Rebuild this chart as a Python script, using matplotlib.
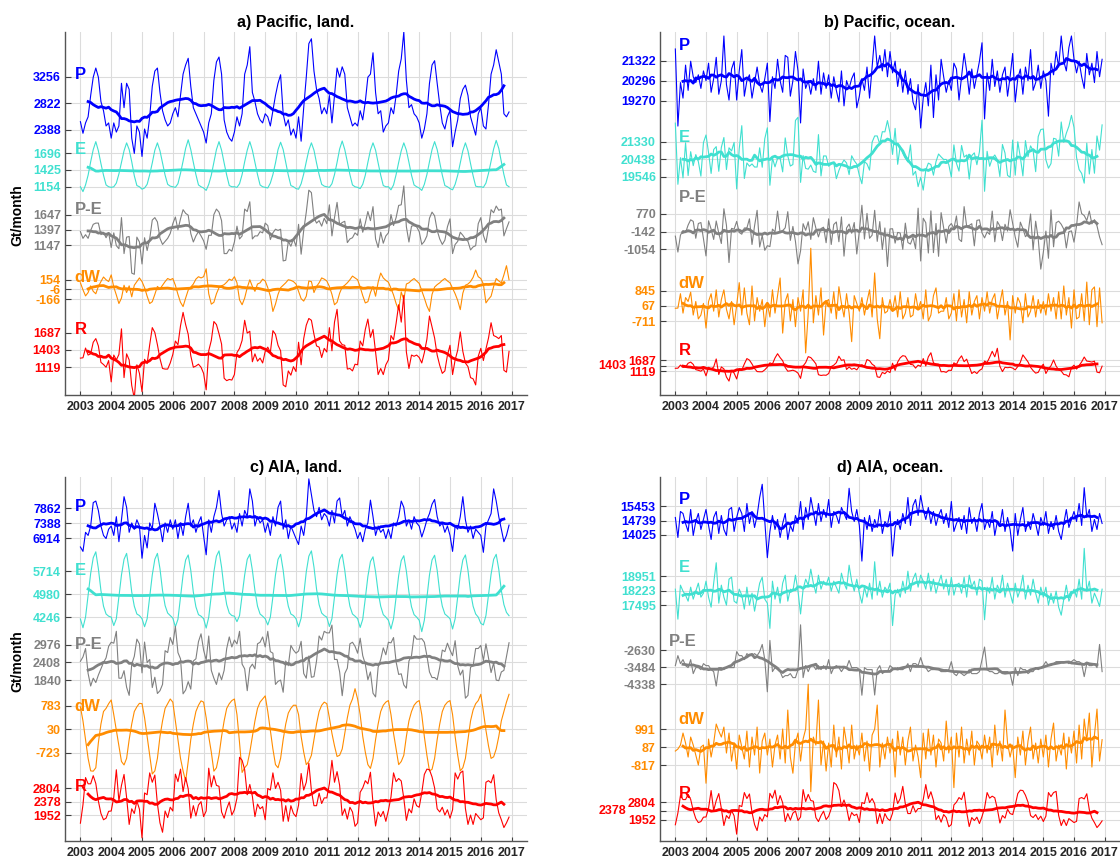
import numpy as np
import pandas as pd
import matplotlib
matplotlib.use("Agg")
from matplotlib import pyplot as plt
from matplotlib import transforms

plt.rcParams['font.family'] = ['Liberation Sans', 'DejaVu Sans']
plt.rcParams['font.weight'] = 'bold'

# monthly time axis, Jan 2003 .. Dec 2016
t = 2003 + np.arange(14 * 12) / 12
years = np.arange(2003, 2018)

SERIES = ['P', 'E', 'P-E', 'dW', 'R']
COLORS = ['#0000ff', '#40e0d0', '#808080', '#ff8c00', '#ff0000']

# ---------------- Pacific, land (Gt/month) ----------------
pac_land_P = [
    2520, 2330, 2500, 2600, 2950, 3250, 3400, 3250, 2850, 2700, 2450, 2500,
    2250, 2500, 2350, 2450, 3150, 2750, 3150, 3050, 2250, 2000, 2450, 2350,
    1950, 2400, 2250, 2600, 3100, 3350, 3400, 3000, 2700, 2550, 2450, 2500,
    2650, 2750, 2600, 2950, 3300, 3450, 3560, 3100, 2750, 2650, 2550, 2450,
    2350, 2170, 2500, 2650, 3200, 3500, 3580, 3300, 2550, 2350, 2250, 2200,
    2350, 2600, 2450, 2650, 3300, 3450, 3750, 3000, 2850, 2650, 2550, 2500,
    2650, 2600, 2450, 2700, 2950, 3150, 3290, 2650, 2450, 2550, 2300, 2400,
    2250, 2600, 2200, 2750, 3250, 3800, 3880, 3350, 3050, 2900, 2650, 2750,
    2650, 2950, 2500, 2950, 3400, 3250, 3420, 3300, 2750, 2600, 2450, 2500,
    2450, 2700, 2550, 2850, 3250, 3300, 3650, 3000, 2650, 2700, 2350, 2450,
    2500, 2750, 2650, 2950, 3350, 3550, 3990, 3200, 2750, 2800, 2650, 2600,
    2500, 2250, 2400, 2650, 3150, 3450, 3520, 3150, 2800, 2500, 2400, 2600,
    2700, 2110, 2350, 2550, 2900, 3050, 3120, 2950, 2600, 2450, 2300, 2650,
    2750, 2450, 2400, 2800, 3300, 3450, 3700, 3500, 3300, 2650, 2600, 2680,
]
pac_land_E = [
    1150, 1070, 1180, 1340, 1560, 1760, 1890, 1740, 1530, 1340, 1180, 1150,
    1140, 1150, 1210, 1360, 1550, 1740, 1870, 1760, 1560, 1330, 1170, 1150,
    1110, 1130, 1190, 1350, 1540, 1750, 1870, 1740, 1540, 1340, 1190, 1160,
    1150, 1140, 1200, 1370, 1570, 1780, 1920, 1760, 1550, 1350, 1180, 1150,
    1130, 1090, 1190, 1340, 1550, 1760, 1890, 1750, 1540, 1340, 1170, 1150,
    1150, 1140, 1200, 1350, 1560, 1750, 1890, 1750, 1550, 1350, 1180, 1150,
    1140, 1130, 1210, 1350, 1540, 1760, 1880, 1760, 1550, 1340, 1170, 1150,
    1120, 1110, 1200, 1360, 1560, 1750, 1870, 1750, 1540, 1350, 1190, 1160,
    1150, 1140, 1200, 1350, 1550, 1770, 1900, 1760, 1560, 1350, 1180, 1150,
    1140, 1120, 1190, 1340, 1550, 1750, 1870, 1750, 1540, 1340, 1170, 1150,
    1150, 1100, 1180, 1350, 1550, 1740, 1870, 1750, 1550, 1340, 1180, 1150,
    1130, 1090, 1190, 1350, 1560, 1760, 1890, 1760, 1550, 1340, 1170, 1150,
    1120, 1100, 1190, 1340, 1540, 1740, 1870, 1740, 1530, 1330, 1160, 1150,
    1150, 1140, 1210, 1370, 1570, 1770, 1910, 1780, 1560, 1350, 1180, 1150,
]
pac_land_dW = [
    100, -15, -115, -60, 50, -40, -80, 40, 120, 195, 150, 120,
    230, 30, -100, -240, -150, 60, -60, 50, -130, 60, 120, 180,
    120, 20, -120, -240, -210, -90, 40, 0, 60, 120, 170, 150,
    170, 60, -90, -220, -290, -150, -20, 30, 80, 160, 200, 180,
    200, 330, -80, -250, -220, -80, 20, 50, 70, 110, 160, 140,
    200, 100, -180, -260, -150, 20, 150, 40, -40, 80, 100, 160,
    130, 20, -120, -370, -250, -90, 20, 60, 100, 150, 140, 120,
    80, -40, -160, -200, -120, 130, 120, -60, 40, 100, 180, 160,
    130, 40, -90, -260, -220, -70, 30, 60, 100, 150, 210, 180,
    150, 30, -110, -230, -210, -60, 40, -120, 110, 260, 180, 140,
    110, 10, -100, -240, -345, -50, -180, 80, 100, 140, 170, 130,
    90, -30, -150, -280, -370, -90, 30, 70, 100, 140, 170, 130,
    100, 10, -80, -190, -340, -70, 60, 80, 120, 190, 310, 200,
    170, 80, -230, -170, -120, 40, 170, 130, 100, 230, 380, 150,
]

# ---------------- Pacific, ocean ----------------
pac_ocean_P = [
    21930, 17960, 20200, 19400, 21100, 19800, 21300, 20500, 20200, 20600, 19900, 20800,
    20300, 21200, 19700, 20400, 21500, 19600, 20300, 22600, 20100, 19300, 20900, 21300,
    19300, 20800, 21900, 19500, 20300, 20600, 19400, 20200, 21000, 20100, 19700, 20400,
    21200, 18190, 20500, 19900, 21400, 20300, 19700, 21600, 21500, 19500, 20300, 21800,
    20800, 18120, 20900, 19900, 20300, 19600, 20400, 19800, 21300, 19600, 20700, 19900,
    20600, 19400, 20500, 19800, 19200, 20800, 19000, 20300, 19900, 20400, 20700, 18900,
    19500, 20400, 19800, 21000, 19400, 21000, 22600, 21000, 21600, 20800, 21900, 20500,
    21800, 20700, 21300, 20000, 20900, 19700, 20800, 19600, 20400, 19200, 18800, 20100,
    17860, 19400, 20200, 19000, 21100, 18400, 20600, 19300, 21400, 20500, 19700, 20300,
    19800, 21200, 20900, 19300, 20500, 21700, 20800, 19600, 20900, 19900, 20600, 21300,
    22250, 18330, 20700, 19800, 21400, 20000, 20800, 19700, 20600, 21000, 19500, 20500,
    21700, 19200, 20400, 20900, 19600, 21000, 20300, 21900, 19800, 20200, 21100, 19900,
    20800, 20300, 18470, 21200, 20600, 21800, 21000, 22600, 21300, 20800, 22000, 22600,
    21400, 20700, 21300, 20500, 19900, 21700, 20600, 21200, 20200, 21800, 20500, 21400,
]
pac_ocean_E = [
    22300, 19150, 20520, 19480, 21290, 19600, 20830, 20110, 20680, 20320, 19570, 21300,
    21690, 20780, 19710, 20940, 21090, 19820, 21050, 21560, 19910, 21030, 20870, 21310,
    18910, 20980, 22170, 19450, 20250, 20080, 20200, 20040, 20040, 21030, 20030, 21500,
    22060, 19100, 20510, 20050, 20480, 20490, 19790, 21540, 20610, 20090, 20170, 22440,
    22600, 19250, 20630, 19970, 19930, 20140, 19820, 19760, 21710, 19580, 20610, 20610,
    20080, 20200, 20270, 19440, 19860, 20180, 20400, 20250, 19650, 20620, 20370, 20190,
    19610, 19180, 20320, 20200, 19880, 21320, 21640, 21640, 21220, 21860, 21850, 22430,
    21800, 20690, 22030, 20180, 21110, 20750, 20500, 20300, 21180, 19620, 19820, 19030,
    19510, 18850, 19880, 20240, 20170, 19620, 20320, 20710, 20560, 20430, 20430, 20170,
    19520, 21180, 20230, 19830, 21150, 20550, 20660, 19420, 20630, 20770, 20160, 20830,
    22450, 18790, 20850, 20080, 20480, 20660, 20420, 19550, 21200, 20760, 19610, 19510,
    21430, 19620, 21340, 20550, 19580, 21400, 20570, 21130, 20880, 19800, 21610, 21970,
    22000, 20410, 19980, 20220, 21520, 21480, 20600, 22360, 21310, 21780, 22140, 22700,
    22080, 20530, 19910, 19710, 19210, 21270, 19680, 20940, 19720, 21640, 20910, 22210,
]
pac_ocean_dW = [
    -50, -40, 700, -300, 500, 300, 780, -400, 300, -600, -400, 200,
    -1070, 300, 700, -200, 900, -500, 400, 900, -100, -600, 300, -900,
    100, 1270, -400, 1000, -300, -900, 1100, -700, 500, -200, 400, -1000,
    200, -500, 900, -300, 600, 1510, -1330, 300, 700, -700, 400, -1000,
    500, -200, 900, -2350, -300, 3040, -800, 600, -400, 1000, -1430, 300,
    400, -300, 800, -600, 1060, 200, -500, 700, -300, -1770, 600, 200,
    -200, 500, -400, 300, 900, -500, 1770, -600, -1620, 500, -300, -200,
    400, -200, 600, -500, 800, -600, -300, 500, -500, -400, 700, -100,
    300, -600, 900, -700, -400, 600, 1000, -300, -200, -200, 500, -600,
    -300, 700, -700, 900, -500, 400, -800, 800, -400, 300, 600, -600,
    500, -200, 800, -300, 400, 700, -600, 200, 900, -400, 300, -1680,
    600, -300, 500, 200, -800, 700, -500, -200, 600, -500, 400, -300,
    300, -400, 700, -200, 500, -600, 800, -600, 1100, -400, 500, -1070,
    900, -600, -500, 700, -700, 1300, -900, 900, 1050, -1000, 1000, -800,
]

# ---------------- AIA, land ----------------
aia_land_P = [
    6630, 6490, 7100, 7000, 7300, 8050, 8100, 7800, 7300, 7000, 6900, 7200,
    7300, 7000, 7600, 6800, 7500, 8240, 7900, 7100, 7400, 7200, 7500, 7300,
    6270, 7000, 6600, 7400, 7200, 8030, 7700, 7300, 6800, 7400, 7100, 7500,
    7200, 7500, 6900, 7400, 7000, 7600, 8030, 7300, 7500, 7100, 7400, 7600,
    7000, 6380, 7500, 7100, 7600, 7900, 8440, 7700, 7300, 7500, 7600, 7200,
    7400, 7100, 7700, 7300, 7800, 7600, 8490, 8100, 7300, 7600, 7400, 7500,
    7100, 7400, 7000, 7600, 7300, 7900, 8100, 7200, 7500, 6900, 7300, 7100,
    6900, 6710, 7300, 7000, 7600, 8810, 8300, 7800, 7600, 7900, 7500, 7700,
    7600, 7300, 7800, 7400, 8100, 8200, 7600, 7800, 7300, 7600, 7400, 7200,
    6900, 7100, 6800, 7200, 7400, 8130, 7600, 7000, 7300, 7100, 7200, 6900,
    7200, 6900, 7400, 7300, 7600, 8100, 7900, 7300, 7500, 7200, 7600, 7400,
    7300, 6950, 7200, 7500, 7700, 8000, 8150, 7600, 7300, 7400, 7100, 7300,
    7000, 6490, 7300, 7200, 7600, 8240, 7500, 7100, 7300, 6900, 7200, 7100,
    7000, 6460, 7300, 7500, 7700, 8490, 8100, 7600, 7200, 6800, 7000, 7330,
]
aia_land_E = [
    4190, 3910, 4250, 4950, 5650, 6150, 6340, 5800, 5100, 4600, 4350, 4280,
    4250, 3980, 4200, 4900, 5600, 6100, 6290, 5750, 5050, 4600, 4350, 4300,
    4200, 3943, 4200, 4900, 5600, 6100, 6290, 5800, 5100, 4620, 4380, 4300,
    4220, 3940, 4180, 4880, 5600, 6080, 6240, 5750, 5050, 4580, 4330, 4280,
    4200, 3900, 4250, 4950, 5700, 6200, 6370, 5850, 5150, 4650, 4380, 4300,
    4280, 4105, 4300, 4950, 5600, 6100, 6260, 5750, 5100, 4600, 4350, 4280,
    4200, 4000, 4250, 4900, 5600, 6100, 6260, 5750, 5050, 4600, 4350, 4300,
    4200, 3940, 4220, 4950, 5700, 6200, 6370, 5850, 5150, 4650, 4380, 4300,
    4250, 3950, 4200, 4900, 5600, 6100, 6260, 5750, 5080, 4600, 4350, 4280,
    4200, 3920, 4180, 4850, 5550, 6030, 6180, 5700, 5050, 4600, 4330, 4250,
    4150, 3870, 4200, 4880, 5580, 6060, 6215, 5720, 5050, 4580, 4330, 4250,
    4150, 3785, 4150, 4880, 5600, 6080, 6230, 5750, 5050, 4600, 4350, 4280,
    4200, 3870, 4200, 4900, 5600, 6080, 6240, 5750, 5050, 4600, 4350, 4250,
    4050, 4000, 4300, 4950, 5620, 6100, 6260, 5780, 5100, 4650, 4400, 4295,
]
aia_land_dW = [
    750, 300, -300, -900, -1300, -1310, -1200, -400, 200, 600, 700, 850,
    970, 500, 0, -500, -1000, -1110, -900, -300, 200, 600, 750, 862,
    850, 400, -200, -800, -1400, -1300, -900, -200, 300, 700, 850, 1000,
    900, 300, -300, -900, -1300, -1630, -1000, -300, 200, 600, 800, 940,
    900, 400, -200, -700, -1310, -1200, -800, -200, 300, 700, 850, 950,
    1000, 500, -400, -1350, -1200, -1100, -700, -200, 300, 700, 900, 1000,
    1100, 600, 0, -600, -1100, -1200, -900, -300, 200, 550, 700, 800,
    800, 500, -200, -700, -1100, -1000, -800, -300, 200, 600, 800, 900,
    850, 400, -100, -500, -840, -800, -600, -100, 400, 800, 1000, 1330,
    1000, 500, -200, -700, -1100, -1220, -900, -300, 200, 600, 800, 900,
    950, 500, -100, -600, -1100, -1000, -800, -200, 300, 600, 800, 900,
    950, 500, -200, -800, -1300, -1250, -900, -300, 200, 600, 800, 900,
    950, 500, -200, -800, -1300, -1200, -900, -300, 300, 650, 850, 950,
    1150, 600, 0, -500, -900, -850, -600, -200, 300, 600, 900, 1150,
]

# ---------------- AIA, ocean ----------------
aia_ocean_P = [
    14900, 13900, 15200, 15100, 14600, 14200, 15300, 14000, 14700, 15100, 14300, 14800,
    15300, 14500, 13800, 14900, 15200, 14100, 15000, 14300, 14000, 15300, 15400, 14200,
    14900, 15400, 15100, 14200, 15600, 14600, 15200, 14400, 15000, 15900, 16560, 14700,
    12890, 14200, 15000, 14300, 14800, 13900, 14600, 15100, 13800, 14500, 14200, 15000,
    14600, 15700, 14300, 15400, 14800, 15900, 15200, 14500, 15600, 14700, 15300, 14900,
    15800, 14400, 15200, 15000, 14600, 15400, 15100, 14800, 16360, 15200, 14700, 15300,
    14500, 12720, 14900, 14300, 15000, 14200, 14800, 14400, 15300, 14100, 14700, 14500,
    15200, 12970, 14400, 14800, 14300, 15100, 14600, 15900, 14500, 15500, 15800, 15000,
    16000, 15300, 14800, 15400, 14600, 15200, 14500, 15000, 15300, 14600, 15100, 14400,
    15700, 14200, 14600, 14900, 14300, 15000, 14100, 15400, 14600, 14900, 14200, 15100,
    15600, 14300, 14800, 14400, 15200, 14000, 14700, 14500, 15300, 14200, 14900, 14300,
    13220, 15100, 14000, 14800, 15400, 14200, 14700, 14300, 15100, 14600, 14000, 14900,
    14500, 15200, 14100, 14700, 14300, 15000, 14200, 13800, 14600, 15300, 14400, 14800,
    15200, 14700, 15600, 14500, 16390, 14900, 15300, 14200, 14800, 14300, 15100, 14600,
]
aia_ocean_E = [
    18300, 16800, 18500, 18200, 18000, 17700, 18400, 17800, 18200, 18600, 17900, 18100,
    18700, 17900, 17400, 18600, 19620, 17600, 18500, 17900, 17500, 18800, 18900, 17700,
    17600, 18300, 18000, 17300, 18400, 17500, 18100, 17200, 17900, 18600, 18900, 17800,
    17600, 16340, 18700, 17800, 18400, 17600, 18600, 19000, 17700, 18300, 18200, 19000,
    18200, 17060, 18300, 18800, 18500, 19300, 18600, 18100, 19000, 18300, 18700, 18500,
    18900, 18200, 18700, 18400, 18100, 19100, 18600, 18300, 19500, 18700, 18200, 18800,
    18100, 17600, 18400, 17900, 18600, 17800, 19670, 18000, 18700, 17900, 18400, 18200,
    18600, 16480, 18000, 18300, 17900, 18700, 18100, 19200, 18200, 18800, 19100, 18400,
    19000, 18700, 18300, 19100, 18200, 18800, 18100, 18600, 19000, 18300, 18800, 18000,
    18900, 18000, 18500, 18600, 18100, 18900, 17900, 19000, 18400, 18700, 18000, 18800,
    18700, 16770, 18400, 18100, 18900, 17800, 18500, 18200, 19000, 17900, 18600, 18100,
    17600, 18600, 17900, 18300, 19000, 17800, 18500, 18000, 18800, 18100, 17600, 18400,
    17900, 18400, 17500, 18100, 17600, 18200, 17400, 17000, 17800, 18500, 17700, 18000,
    18300, 17900, 18800, 17800, 20340, 18200, 18700, 17600, 18100, 17800, 17440, 18300,
]
aia_ocean_dW = [
    -100, 0, 200, 800, 300, -400, 600, 200, -300, -800, 100, 200,
    -1710, 500, -400, 300, 1250, 900, 600, 1100, -200, 800, -600, 300,
    -1000, 700, 100, -500, 900, -900, 600, -300, 1100, -1200, 400, 800,
    -300, 500, -900, 200, 700, -500, 1000, -700, 1950, -400, -1210, 300,
    800, -600, 500, 1000, 3240, -2130, 600, 200, 2450, -800, 400, -1100,
    300, -900, 1200, -400, 600, -1000, 1100, 300, -700, 1200, -500, 200,
    -300, 800, -600, 400, -1100, 700, 1000, 2200, -900, 300, -500, 600,
    -200, 500, -1400, 900, -300, 600, -800, 400, 1100, -600, 200, -400,
    -1430, 800, -500, 1000, -300, 700, -900, 500, 300, -600, 1400, -200,
    600, -1930, 800, -400, 1100, -700, 500, -300, 900, -800, 400, 200,
    -500, 700, -200, 600, -900, 1200, -300, 400, -600, 1950, 300, -400,
    200, -1430, 600, -300, 900, -800, 400, 1100, -500, 300, -700, 500,
    -400, 700, -900, 500, 1300, -600, 200, -300, 800, -1000, 600, -200,
    900, -700, 1200, -500, 1500, 400, 1800, -900, 700, 2000, -600, 470,
]

# value printed at each series' centre line and the +/- spread shown around it
pac_land_mid = [2822, 1425, 1397, -6, 1403]
pac_land_sd = [434, 271, 250, 160, 284]
pac_ocean_mid = [20296, 20438, -142, 67, 1403]
pac_ocean_sd = [1026, 892, 912, 778, 284]
aia_land_mid = [7388, 4980, 2408, 30, 2378]
aia_land_sd = [474, 734, 568, 753, 426]
aia_ocean_mid = [14739, 18223, -3484, 87, 2378]
aia_ocean_sd = [714, 728, 854, 904, 426]


def running_mean(y):
    return pd.Series(y).rolling(12, center=True, min_periods=9).mean().to_numpy()


def budget(P, E, dW, R=None):
    P = np.asarray(P, dtype=float)
    E = np.asarray(E, dtype=float)
    dW = np.asarray(dW, dtype=float)
    PE = P - E
    # over land the runoff closes the budget: R = P - E - dW
    if R is None:
        R = PE - dW
    return [P, E, PE, dW, np.asarray(R, dtype=float)]


def draw_panel(ax, series, mid, sd, offsets, ytop, label_y, label_x, title, side_mid_r=False):
    ticks, ticklabels, tickcolors = [], [], []
    for y, m, s, off, c in zip(series, mid, sd, offsets, COLORS):
        ax.plot(t, y - m + off, color=c, lw=0.8, zorder=3)
        ax.plot(t, running_mean(y) - m + off, color=c, lw=2.0, zorder=4)
        for k in (-1, 0, 1):
            ticks.append(off + k * s)
            ticklabels.append(str(m + k * s))
            tickcolors.append(c)

    if side_mid_r:
        # R is squeezed on the ocean scale, its mean goes to the left
        ticklabels[13] = ''
        trans = transforms.blended_transform_factory(ax.transAxes, ax.transData)
        ax.text(-0.074, offsets[4], str(mid[4]), transform=trans, ha='right', va='center',
                fontsize=9, fontweight='bold', color=COLORS[4])

    for name, c, ly, lx in zip(SERIES, COLORS, label_y, label_x):
        ax.text(lx, ly, name, color=c, fontsize=12, fontweight='bold', ha='left', va='center', zorder=5)

    ax.set_xlim(2002.5, 2017.5)
    ax.set_ylim(0, ytop)
    ax.set_xticks(years)
    ax.set_xticklabels([str(y) for y in years])
    ax.set_yticks(ticks)
    ax.set_yticklabels(ticklabels)
    for lbl, c in zip(ax.get_yticklabels(), tickcolors):
        lbl.set_color(c)

    ax.tick_params(axis='x', direction='in', length=3, width=0.8, color='#404040',
                   labelsize=9, labelcolor='#262626', pad=4)
    ax.tick_params(axis='y', direction='in', length=4, width=0.8, color='#404040',
                   labelsize=9, pad=3)
    ax.grid(True, color='#dcdcdc', lw=0.8)
    ax.set_axisbelow(True)
    for side in ['top', 'right']:
        ax.spines[side].set_visible(False)
    for side in ['left', 'bottom']:
        ax.spines[side].set_color('#555555')
        ax.spines[side].set_linewidth(1.0)

    ax.text(0.5, 1.026, title, transform=ax.transAxes, ha='center', va='center',
            fontsize=11.5, fontweight='bold', color='black')


pac_land = budget(pac_land_P, pac_land_E, pac_land_dW)
pac_ocean = budget(pac_ocean_P, pac_ocean_E, pac_ocean_dW, R=pac_land[4])
aia_land = budget(aia_land_P, aia_land_E, aia_land_dW)
aia_ocean = budget(aia_ocean_P, aia_ocean_E, aia_ocean_dW, R=aia_land[4])

fig = plt.figure(figsize=(11.2, 8.6), dpi=100)

ax_a = fig.add_axes([0.05804, 0.54070, 0.41250, 0.42209])
draw_panel(ax_a, pac_land, pac_land_mid, pac_land_sd,
           offsets=[4784, 3690, 2706, 1734, 738], ytop=5953,
           label_y=[5264, 4018, 3034, 1919, 1066],
           label_x=[2002.82] * 5, title='a) Pacific, land.')

ax_b = fig.add_axes([0.58929, 0.54070, 0.41071, 0.42209])
draw_panel(ax_b, pac_ocean, pac_ocean_mid, pac_ocean_sd,
           offsets=[16186, 12139, 8410, 4584, 1509], ytop=18695,
           label_y=[18025, 13287, 10197, 5768, 2281],
           label_x=[2003.1] * 5, title='b) Pacific, ocean.', side_mid_r=True)

ax_c = fig.add_axes([0.05804, 0.02209, 0.41250, 0.42326])
draw_panel(ax_c, aia_land, aia_land_mid, aia_land_sd,
           offsets=[10166, 7894, 5718, 3574, 1258], ytop=11648,
           label_y=[10698, 8640, 6304, 4320, 1738],
           label_x=[2002.82] * 5, title='c) AIA, land.')

ax_d = fig.add_axes([0.58929, 0.02209, 0.41071, 0.42326])
draw_panel(ax_d, aia_ocean, aia_ocean_mid, aia_ocean_sd,
           offsets=[16015, 12515, 8685, 4685, 1500], ytop=18200,
           label_y=[17050, 13665, 10000, 6085, 2385],
           label_x=[2003.1, 2003.1, 2002.8, 2003.1, 2003.1], title='d) AIA, ocean.',
           side_mid_r=True)

fig.text(17 / 1120, 1 - 215 / 860, 'Gt/month', rotation=90, ha='center', va='center',
         fontsize=10, fontweight='bold')
fig.text(17 / 1120, 1 - 661 / 860, 'Gt/month', rotation=90, ha='center', va='center',
         fontsize=10, fontweight='bold')

fig.savefig('out.png', dpi=100)
